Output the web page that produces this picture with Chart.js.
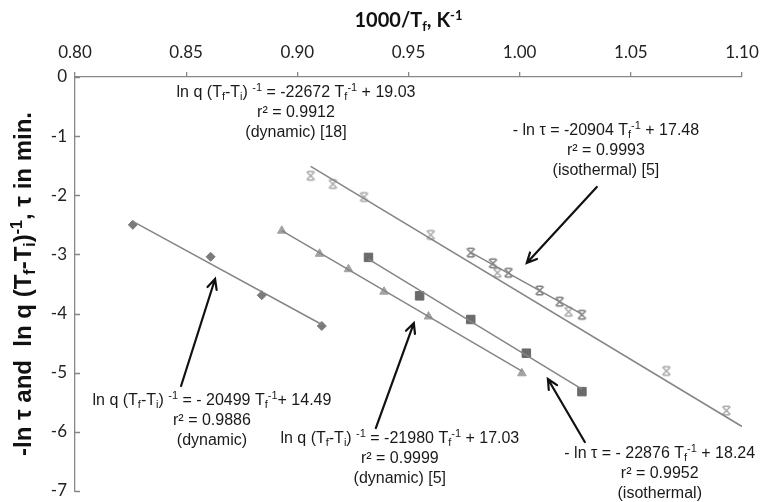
<!DOCTYPE html>
<html>
<head>
<meta charset="utf-8">
<script src="https://cdn.jsdelivr.net/npm/chart.js@4/dist/chart.umd.min.js"></script>
<style>
  html, body { margin: 0; padding: 0; background: #ffffff; }
  #wrap { width: 762px; height: 502px; }
</style>
</head>
<body>
<div id="wrap"><canvas id="c" width="762" height="502"></canvas></div>
<script>
// Arrhenius-type data: x = 1000/T_f (K^-1), y = -ln tau or ln q (T_f - T_i)^-1
const dynamicX = [0.826, 0.861, 0.884, 0.911];
const dynamicY = [-2.50, -3.04, -3.69, -4.21];

const dynamic5X = [0.893, 0.910, 0.923, 0.939, 0.959, 1.001];
const dynamic5Y = [-2.60, -2.99, -3.25, -3.63, -4.05, -5.01];

const isothermalX = [0.932, 0.955, 0.978, 1.003, 1.028];
const isothermalY = [-3.05, -3.70, -4.10, -4.67, -5.32];

const isothermal5X = [0.978, 0.988, 0.995, 1.009, 1.018, 1.028];
const isothermal5Y = [-2.97, -3.15, -3.31, -3.61, -3.80, -4.02];

const dynamic18X = [0.906, 0.916, 0.930, 0.960, 0.990, 1.022, 1.066, 1.093];
const dynamic18Y = [-1.67, -1.81, -2.03, -2.67, -3.31, -3.97, -4.97, -5.64];

// Linear fits y = slope/1000 * x + intercept, drawn over the fitted range
const fitSlope     = [-20499, -21980, -22876, -20904, -22672];
const fitIntercept = [14.49, 17.03, 18.24, 17.48, 19.03];
const fitFrom      = [0.826, 0.893, 0.932, 0.978, 0.906];
const fitTo        = [0.911, 1.001, 1.028, 1.028, 1.100];

// Axis ticks
const xTickValues = [0.80, 0.85, 0.90, 0.95, 1.00, 1.05, 1.10];
const xTickLabels = ['0.80', '0.85', '0.90', '0.95', '1.00', '1.05', '1.10'];
const yTickValues = [0, -1, -2, -3, -4, -5, -6, -7];
const yTickLabels = ['0', '-1', '-2', '-3', '-4', '-5', '-6', '-7'];

// Fit equations shown on the plot
const noteLines = [
  ['ln q (T_{f}-T_{i}) ^{-1} = -22672 T_{f}^{-1} + 19.03', 'r² = 0.9912', '(dynamic) [18]'],
  ['- ln τ = -20904 T_{f}^{-1} + 17.48', 'r² = 0.9993', '(isothermal) [5]'],
  ['ln q (T_{f}-T_{i}) ^{-1} = - 20499 T_{f}^{-1}+ 14.49', 'r² = 0.9886', '(dynamic)'],
  ['ln q (T_{f}-T_{i}) ^{-1} = -21980 T_{f}^{-1} + 17.03', 'r² = 0.9999', '(dynamic) [5]'],
  ['- ln τ = - 22876 T_{f}^{-1} + 18.24', 'r² = 0.9952', '(isothermal)']
];
// anchor of each note (centre of its first line), in axis units
const noteAt = [
  { x: 0.8994, y: -0.237 },
  { x: 1.0388, y: -0.879 },
  { x: 0.8616, y: -5.445 },
  { x: 0.9461, y: -6.087 },
  { x: 1.0630, y: -6.341 }
];
// arrows from a note to its line, in axis units
const arrows = [
  { from: { x: 0.8477, y: -5.225 }, to: { x: 0.8630, y: -3.416 } },
  { from: { x: 0.9353, y: -5.935 }, to: { x: 0.9524, y: -4.160 } },
  { from: { x: 1.0293, y: -6.172 }, to: { x: 1.0127, y: -5.107 } },
  { from: { x: 1.0347, y: -1.860 }, to: { x: 1.0032, y: -3.145 } }
];

const AXIS_GREY = '#878787';
const LINE_GREY = '#858585';

function pts(xs, ys) { return xs.map((x, i) => ({ x: x, y: ys[i] })); }
function fitLine(i) {
  const f = x => fitSlope[i] / 1000 * x + fitIntercept[i];
  return [{ x: fitFrom[i], y: f(fitFrom[i]) }, { x: fitTo[i], y: f(fitTo[i]) }];
}

// "x" marker with short caps, as a bitmap point style
function capCross(color) {
  const size = 13;
  const c = document.createElement('canvas');
  c.width = size; c.height = size;
  const g = c.getContext('2d');
  g.strokeStyle = color; g.lineWidth = 1.5; g.lineCap = 'butt';
  const a = 2.5, b = size - 2.5, m = size / 2;
  g.beginPath();
  g.moveTo(a, a); g.lineTo(b, b);
  g.moveTo(b, a); g.lineTo(a, b);
  g.moveTo(m - 3, a - 0.2); g.lineTo(m + 3, a - 0.2);
  g.moveTo(m - 3, b + 0.2); g.lineTo(m + 3, b + 0.2);
  g.stroke();
  return c;
}

// text with _{sub} and ^{sup} parts
function parseRich(s) {
  const segs = []; let buf = ''; let i = 0;
  while (i < s.length) {
    const ch = s[i];
    if ((ch === '_' || ch === '^') && s[i + 1] === '{') {
      if (buf) { segs.push({ t: buf, m: 0 }); buf = ''; }
      const end = s.indexOf('}', i);
      segs.push({ t: s.slice(i + 2, end), m: ch === '_' ? -1 : 1 });
      i = end + 1;
    } else { buf += ch; i++; }
  }
  if (buf) segs.push({ t: buf, m: 0 });
  return segs;
}
function drawRich(ctx, text, x, yMid, size, family, weight) {
  const segs = parseRich(text);
  const small = Math.round(size * 0.66);
  const fontFor = m => `${weight} ${m ? small : size}px ${family}`;
  let w = 0;
  segs.forEach(sg => { ctx.font = fontFor(sg.m); sg.w = ctx.measureText(sg.t).width; w += sg.w; });
  let cx = x - w / 2;
  const base = yMid + size * 0.36;
  ctx.textAlign = 'left';
  ctx.textBaseline = 'alphabetic';
  segs.forEach(sg => {
    ctx.font = fontFor(sg.m);
    const dy = sg.m === 1 ? -size * 0.36 : (sg.m === -1 ? size * 0.2 : 0);
    ctx.fillText(sg.t, cx, base + dy);
    cx += sg.w;
  });
}

const overlay = {
  id: 'overlay',
  afterDraw(chart) {
    const { ctx, chartArea, scales: { x, y } } = chart;
    ctx.save();

    // inward tick marks on the value axis
    ctx.strokeStyle = AXIS_GREY; ctx.lineWidth = 1.3;
    ctx.beginPath();
    yTickValues.forEach(v => {
      const py = Math.round(y.getPixelForValue(v)) + 0.5;
      ctx.moveTo(chartArea.left, py); ctx.lineTo(chartArea.left + 5, py);
    });
    ctx.stroke();

    // axis titles
    ctx.fillStyle = '#111111';
    drawRich(ctx, '1000/T_{f}, K^{-1}', (chartArea.left + chartArea.right) / 2, 20, 20, 'Lato, "Liberation Sans", sans-serif', 'bold');
    ctx.save();
    ctx.translate(22, (chartArea.top + chartArea.bottom) / 2);
    ctx.rotate(-Math.PI / 2);
    drawRich(ctx, '-ln τ and  ln q (T_{f}-T_{i})^{-1}, τ in min.', 0, 0, 24, '"Liberation Sans", Arial, sans-serif', 'bold');
    ctx.restore();

    // arrows
    ctx.strokeStyle = '#111111'; ctx.lineWidth = 2.2; ctx.lineCap = 'round';
    arrows.forEach(a => {
      const x0 = x.getPixelForValue(a.from.x), y0 = y.getPixelForValue(a.from.y);
      const x1 = x.getPixelForValue(a.to.x), y1 = y.getPixelForValue(a.to.y);
      const ang = Math.atan2(y1 - y0, x1 - x0);
      const L = 11, spread = 0.45;
      ctx.beginPath();
      ctx.moveTo(x0, y0); ctx.lineTo(x1, y1);
      ctx.moveTo(x1 - L * Math.cos(ang - spread), y1 - L * Math.sin(ang - spread));
      ctx.lineTo(x1, y1);
      ctx.lineTo(x1 - L * Math.cos(ang + spread), y1 - L * Math.sin(ang + spread));
      ctx.stroke();
    });

    // fit equations
    ctx.fillStyle = '#1a1a1a';
    noteLines.forEach((lines, i) => {
      const cx = x.getPixelForValue(noteAt[i].x);
      const cy = y.getPixelForValue(noteAt[i].y);
      lines.forEach((t, k) => drawRich(ctx, t, cx, cy + k * 20, 16, '"Liberation Sans", Arial, sans-serif', 'normal'));
    });
    ctx.restore();
  }
};

const lineStyle = { showLine: true, borderColor: LINE_GREY, borderWidth: 1.5, pointRadius: 0, pointHoverRadius: 0, fill: false };

new Chart(document.getElementById('c'), {
  type: 'scatter',
  data: {
    datasets: [
      Object.assign({ label: 'fit dynamic', data: fitLine(0) }, lineStyle),
      Object.assign({ label: 'fit dynamic [5]', data: fitLine(1) }, lineStyle),
      Object.assign({ label: 'fit isothermal', data: fitLine(2) }, lineStyle),
      Object.assign({ label: 'fit isothermal [5]', data: fitLine(3) }, lineStyle),
      Object.assign({ label: 'fit dynamic [18]', data: fitLine(4) }, lineStyle),
      { label: 'dynamic', data: pts(dynamicX, dynamicY), pointStyle: 'rectRot', pointRadius: 4.5,
        backgroundColor: '#7b7b7b', borderColor: '#7b7b7b', borderWidth: 1 },
      { label: 'dynamic [5]', data: pts(dynamic5X, dynamic5Y), pointStyle: 'triangle', pointRadius: 5,
        backgroundColor: '#a3a3a3', borderColor: '#a3a3a3', borderWidth: 1 },
      { label: 'isothermal', data: pts(isothermalX, isothermalY), pointStyle: 'rect', pointRadius: 6,
        backgroundColor: '#6b6b6b', borderColor: '#6b6b6b', borderWidth: 1 },
      { label: 'isothermal [5]', data: pts(isothermal5X, isothermal5Y), pointStyle: capCross('#7c7c7c'), pointRadius: 6 },
      { label: 'dynamic [18]', data: pts(dynamic18X, dynamic18Y), pointStyle: capCross('#a8a8a8'), pointRadius: 6 }
    ]
  },
  options: {
    responsive: false,
    animation: false,
    devicePixelRatio: 1,
    layout: { padding: { left: 0, top: 0, right: 20, bottom: 11 } },
    plugins: { legend: { display: false }, tooltip: { enabled: false } },
    scales: {
      x: {
        type: 'linear', position: 'top', min: 0.8, max: 1.1,
        afterFit: s => { s.height = 77; s.paddingLeft = 0; s.paddingRight = 0; },
        afterBuildTicks: s => { s.ticks = xTickValues.map(v => ({ value: v })); },
        ticks: {
          callback: (v, i) => xTickLabels[i],
          padding: 9, maxRotation: 0, autoSkip: false,
          color: '#222222', font: { family: 'Lato, "Liberation Sans", sans-serif', size: 17 }
        },
        grid: { drawOnChartArea: false, drawTicks: true, tickLength: 5, color: AXIS_GREY, lineWidth: 1.3 },
        border: { display: true, color: AXIS_GREY, width: 1.3 }
      },
      y: {
        type: 'linear', position: 'left', min: -7, max: 0,
        afterFit: s => { s.width = 75; s.paddingTop = 0; s.paddingBottom = 0; },
        afterBuildTicks: s => { s.ticks = yTickValues.map(v => ({ value: v })); },
        ticks: {
          callback: (v, i) => yTickLabels[i],
          padding: 8, autoSkip: false,
          color: '#222222', font: { family: 'Lato, "Liberation Sans", sans-serif', size: 17 }
        },
        grid: { drawOnChartArea: false, drawTicks: false, color: AXIS_GREY },
        border: { display: true, color: AXIS_GREY, width: 1.3 }
      }
    }
  },
  plugins: [overlay]
});
</script>
</body>
</html>
